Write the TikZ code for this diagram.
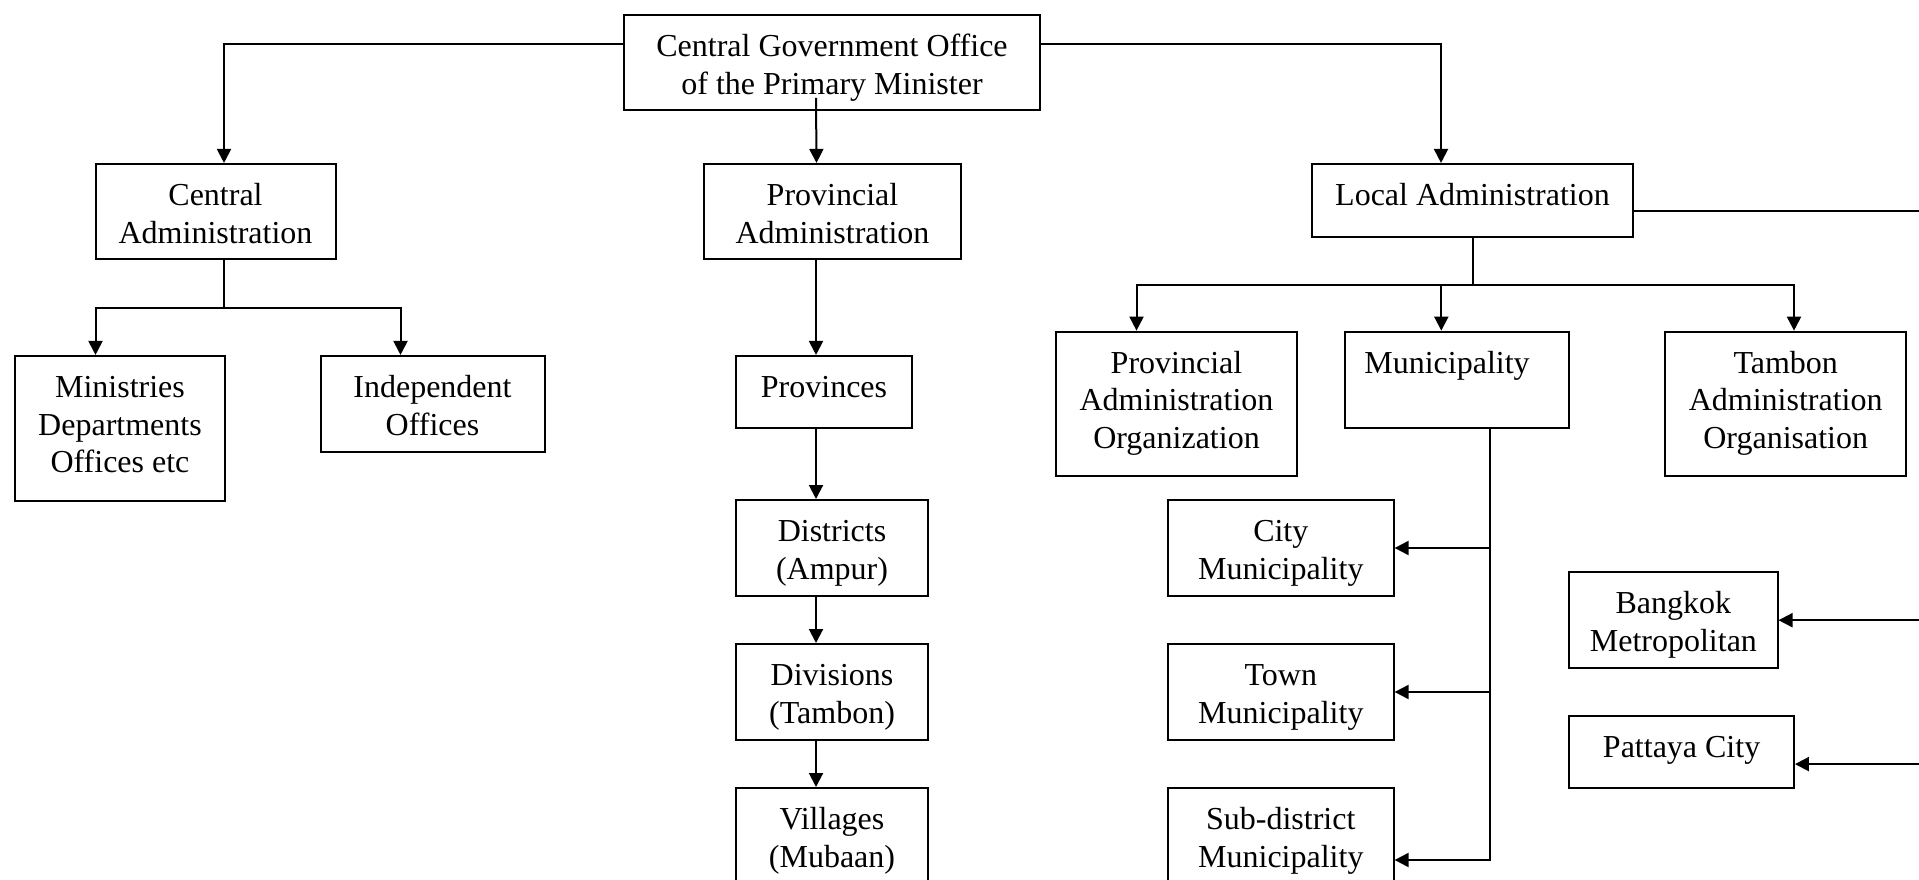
\documentclass[tikz,border=0pt]{standalone}
\usepackage{fontspec}
\setmainfont{Liberation Serif}
\usetikzlibrary{arrows.meta}
% text of a unit: top-aligned, centred lines inside a box of fixed size
\newcommand\unittext[3]{\parbox[c][#2][t]{#1}{\fontsize{32}{37.7}\selectfont
  \centering\rule{0pt}{41.5pt}#3}}
\begin{document}
\begin{tikzpicture}[x=1pt,y=-1pt,
  unit/.style={draw, line width=2pt, inner sep=0pt},
  link/.style={line width=2pt},
  arr/.style={link, -{Triangle[length=14pt,width=14pt]}}]
\useasboundingbox (0,0) rectangle (1919,880);
\clip (0,0) rectangle (1919,880);
\fill[white] (0,0) rectangle (1919,880);

% head office
\node[unit] (top) at (832,62.4)
  {\unittext{416pt}{95pt}{Central Government Office\\of the Primary Minister}};

% central branch
\node[unit] (ca) at (215.5,211.7)
  {\unittext{240pt}{95.5pt}{Central\\Administration}};
\node[unit] (min) at (120,428.3)
  {\unittext{209.5pt}{144.7pt}{Ministries\\Departments\\Offices etc}};
\node[unit] (ind) at (432.5,404.2)
  {\unittext{224pt}{96.5pt}{Independent\\Offices}};

% provincial branch
\node[unit] (pa) at (832.5,211.7)
  {\unittext{257pt}{95.5pt}{Provincial\\Administration}};
\node[unit] (provs) at (824,392.1)
  {\unittext{176.5pt}{72.3pt}{Provinces}};
\node[unit] (dist) at (832,548)
  {\unittext{192.5pt}{96pt}{Districts\\(Ampur)}};
\node[unit] (div) at (832,692)
  {\unittext{192.5pt}{96pt}{Divisions\\(Tambon)}};
\node[unit] (vil) at (832,836)
  {\unittext{192.5pt}{96pt}{Villages\\(Mubaan)}};

% local branch
\node[unit] (la) at (1472.5,200.3)
  {\unittext{321pt}{72.7pt}{Local Administration}};
\node[unit] (pao) at (1176.5,403.8)
  {\unittext{241pt}{144.3pt}{Provincial\\Administration\\Organization}};
\node[unit] (mun) at (1457,379.8)
  {\unittext{224.8pt}{96.3pt}{Municipality\hspace*{20pt}}};
\node[unit] (tao) at (1785.7,403.8)
  {\unittext{240.6pt}{144.3pt}{Tambon\\Administration\\Organisation}};
\node[unit] (city) at (1280.8,548)
  {\unittext{225.6pt}{96pt}{City\\Municipality}};
\node[unit] (town) at (1280.8,692)
  {\unittext{225.6pt}{96pt}{Town\\Municipality}};
\node[unit] (sub) at (1280.8,836)
  {\unittext{225.6pt}{96pt}{Sub-district\\Municipality}};
\node[unit] (bkk) at (1673.4,620.2)
  {\unittext{208.2pt}{96.3pt}{Bangkok\\Metropolitan}};
\node[unit] (pat) at (1681.6,752.1)
  {\unittext{224.7pt}{72.3pt}{Pattaya City}};

% head office to the three administrations
\draw[arr] ([yshift=18pt]top.west) -| ([xshift=8.5pt]ca.north);
\draw[arr] ([yshift=18pt]top.east) -| ([xshift=-31.5pt]la.north);
\draw[arr] ([xshift=-16pt,yshift=13pt]top.south) -- ([xshift=-16pt]pa.north);

% central administration split
\coordinate (cj) at ([xshift=8.5pt,yshift=-48pt]ca.south);
\draw[link] ([xshift=8.5pt]ca.south) -- (cj);
\draw[arr] (cj) -| ([xshift=-24.5pt]min.north);
\draw[arr] (cj) -| ([xshift=-32pt]ind.north);

% provincial chain
\draw[arr] ([xshift=-16.5pt]pa.south) -- ([xshift=-8pt]provs.north);
\draw[arr] ([xshift=-8pt]provs.south) -- ([xshift=-16pt]dist.north);
\draw[arr] ([xshift=-16pt]dist.south) -- ([xshift=-16pt]div.north);
\draw[arr] ([xshift=-16pt]div.south) -- ([xshift=-16pt]vil.north);

% local administration split
\coordinate (lj) at ([yshift=-47.3pt]la.south);
\draw[link] (la.south) -- (lj);
\draw[arr] (lj) -| ([xshift=-40pt]pao.north);
\draw[arr] (lj) -| ([xshift=8.3pt]tao.north);
\draw[arr] ([xshift=-15.7pt]lj -| mun.north) -- ([xshift=-15.7pt]mun.north);

% municipality types
\coordinate (mspine) at ([xshift=32.7pt]mun.south);
\draw[arr] (mspine) |- ([yshift=-24pt]sub.east);
\draw[arr] (mspine |- city.east) -- (city.east);
\draw[arr] (mspine |- town.east) -- (town.east);

% special local bodies on the right-hand rail
\coordinate (laout) at ([yshift=-10.2pt]la.east);
\coordinate (rail) at (1935,0);
\coordinate (patin) at ([yshift=-12pt]pat.east);
\draw[link] (laout) -- (laout -| rail) -- (rail |- patin);
\draw[arr] (rail |- bkk.east) -- (bkk.east);
\draw[arr] (rail |- patin) -- (patin);
\end{tikzpicture}
\end{document}
